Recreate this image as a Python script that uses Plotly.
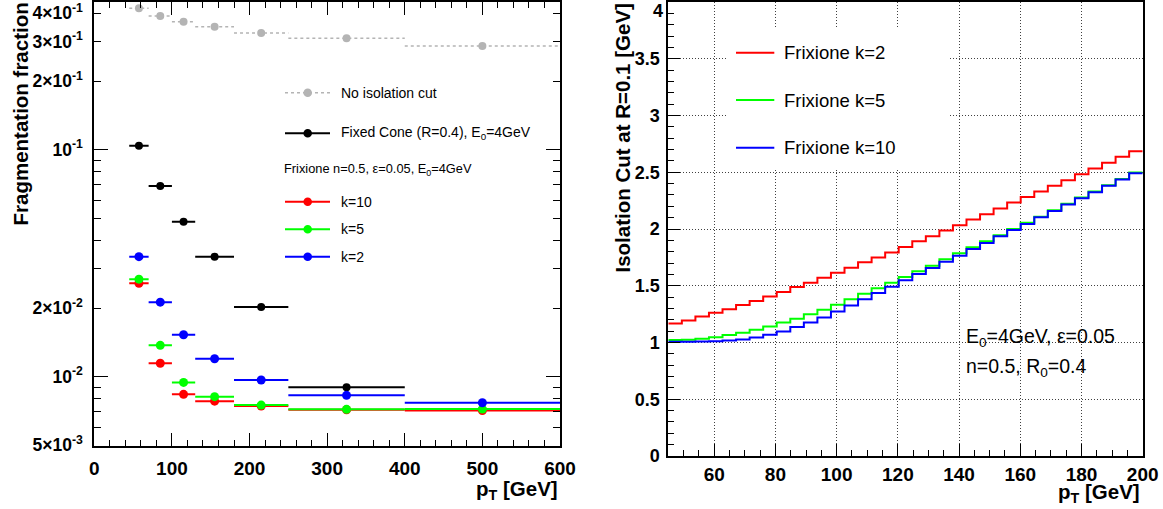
import plotly.graph_objects as go

# ---------------- data: left panel (fragmentation fraction) ----------------
bin_lo = [45, 70, 100, 130, 180, 250, 400]
bin_hi = [70, 100, 130, 180, 250, 400, 600]
no_iso = [0.420, 0.388, 0.366, 0.348, 0.327, 0.310, 0.286]
fixed_cone = [0.104, 0.0692, 0.0482, 0.0338, 0.0203, 0.00898, None]
frix_k10 = [0.0258, 0.01146, 0.00836, 0.0078, 0.00742, 0.00715, 0.0071]
frix_k5 = [0.0269, 0.01375, 0.00944, 0.00817, 0.0075, 0.00718, 0.0072]
frix_k2 = [0.0338, 0.0213, 0.0153, 0.0120, 0.00967, 0.00828, 0.00768]

left_ytick_vals = [0.4, 0.3, 0.2, 0.1, 0.02, 0.01, 0.005]
left_ytick_text = ["4×10<sup>-1</sup>", "3×10<sup>-1</sup>", "2×10<sup>-1</sup>",
                   "10<sup>-1</sup>", "2×10<sup>-2</sup>", "10<sup>-2</sup>", "5×10<sup>-3</sup>"]
left_yminor_vals = [0.03, 0.04, 0.05, 0.06, 0.07, 0.08, 0.09, 0.006, 0.007, 0.008, 0.009]

# ---------------- data: right panel (isolation cut) ----------------
pt_min, pt_max, n_bins = 45.0, 200.0, 35
cut_k2 = [1.168, 1.194, 1.229, 1.262, 1.294, 1.330, 1.365, 1.406, 1.445, 1.489,
          1.527, 1.571, 1.615, 1.659, 1.706, 1.750, 1.792, 1.842, 1.892, 1.936,
          1.986, 2.033, 2.083, 2.130, 2.180, 2.233, 2.283, 2.330, 2.380, 2.430,
          2.483, 2.533, 2.583, 2.636, 2.686]
cut_k5 = [1.021, 1.024, 1.033, 1.047, 1.065, 1.086, 1.112, 1.141, 1.177, 1.209,
          1.250, 1.289, 1.333, 1.380, 1.430, 1.477, 1.527, 1.578, 1.627, 1.677,
          1.733, 1.786, 1.839, 1.892, 1.944, 2.001, 2.056, 2.109, 2.165, 2.222,
          2.277, 2.330, 2.386, 2.441, 2.498]
cut_k10 = [1.006, 1.006, 1.009, 1.012, 1.018, 1.027, 1.045, 1.068, 1.097, 1.136,
           1.177, 1.221, 1.274, 1.327, 1.380, 1.436, 1.492, 1.548, 1.604, 1.657,
           1.712, 1.765, 1.824, 1.877, 1.936, 1.992, 2.045, 2.103, 2.159, 2.215,
           2.271, 2.324, 2.380, 2.436, 2.492]
right_ytick_vals = [0, 0.5, 1, 1.5, 2, 2.5, 3, 3.5, 4]
right_ytick_text = ["0", "0.5", "1", "1.5", "2", "2.5", "3", "3.5", ""]   # top label "4" placed below the edge
right_ytop_label = "4"

# ---------------- helpers ----------------
W, H = 1163, 509
FONT = "Liberation Sans, Arial, Helvetica, sans-serif"


def fx(p):
    return p / W


def fy(p):
    return 1 - p / H


centers = [(a + b) / 2 for a, b in zip(bin_lo, bin_hi)]
err_plus = [b - c for b, c in zip(bin_hi, centers)]
err_minus = [c - a for a, c in zip(bin_lo, centers)]

fig = go.Figure()

# gray: no isolation cut (dashed horizontal bins + markers)
seg_x, seg_y = [], []
for a, b, v in zip(bin_lo, bin_hi, no_iso):
    seg_x += [a, b, None]
    seg_y += [v, v, None]
GRAY = "#b4b4b4"
fig.add_trace(go.Scatter(x=seg_x, y=seg_y, mode="lines",
                         line=dict(color=GRAY, width=1.5, dash="3px,3px"),
                         xaxis="x", yaxis="y", showlegend=False, hoverinfo="skip"))
fig.add_trace(go.Scatter(x=centers, y=no_iso, mode="markers",
                         marker=dict(color=GRAY, size=8),
                         xaxis="x", yaxis="y", showlegend=False))


def add_series(vals, color, size=9):
    fig.add_trace(go.Scatter(
        x=centers, y=vals, mode="markers",
        marker=dict(color=color, size=size),
        error_x=dict(type="data", symmetric=False, array=err_plus, arrayminus=err_minus,
                     thickness=2, width=0, color=color),
        xaxis="x", yaxis="y", showlegend=False))


add_series(fixed_cone, "#000000", 8)
add_series(frix_k10, "#ff0000")
add_series(frix_k5, "#00ff00")
add_series(frix_k2, "#0000ff")

# dummy trace on overlay axis for long decade ticks
fig.add_trace(go.Scatter(x=[None], y=[None], xaxis="x", yaxis="y3", showlegend=False))

# right panel step histograms
step = (pt_max - pt_min) / n_bins
edges = [pt_min + i * step for i in range(n_bins + 1)]
for vals, color in [(cut_k2, "#ff0000"), (cut_k5, "#00ff00"), (cut_k10, "#0000ff")]:
    fig.add_trace(go.Scatter(x=edges, y=list(vals) + [vals[-1]], mode="lines",
                             line=dict(color=color, width=2, shape="hv"),
                             xaxis="x2", yaxis="y2", showlegend=False))

LX0, LX1, LY0, LY1 = 94.3, 560, 2, 446
RX0, RX1, RY0, RY1 = 668.3, 1142.7, 2, 456
ytop_log = -1 + (149.7 - LY0) / 227.0
ybot_log = -2 - (LY1 - 376.7) / 227.0

tickfont_x = dict(family=FONT, size=19, color="black", weight="bold")
common_line = dict(showline=True, linecolor="black", linewidth=2, zeroline=False, showgrid=False,
                   automargin=False, ticklabeloverflow="allow")

fig.update_layout(
    template="none",
    width=W, height=H, autosize=False,
    margin=dict(l=0, r=0, t=0, b=0, pad=0),
    paper_bgcolor="white", plot_bgcolor="white",
    showlegend=False,
    xaxis=dict(domain=[fx(LX0), fx(LX1)], anchor="y", range=[0, 600],
               tickvals=[0, 100, 200, 300, 400, 500, 600], ticks="inside", ticklen=13,
               tickcolor="black", tickwidth=1, mirror="ticks",
               minor=dict(dtick=20, tick0=0, ticks="inside", ticklen=6, tickcolor="black"),
               tickfont=tickfont_x, ticklabelstandoff=4, **common_line),
    yaxis=dict(domain=[fy(LY1), fy(LY0)], anchor="x", type="log", range=[ybot_log, ytop_log],
               tickmode="array", tickvals=left_ytick_vals, ticktext=left_ytick_text,
               ticks="inside", ticklen=7, tickcolor="black", mirror="ticks",
               minor=dict(tickmode="array", tickvals=left_yminor_vals, ticks="inside",
                          ticklen=7, tickcolor="black"),
               tickfont=dict(family=FONT, size=17.5, color="black", weight="bold"),
               ticklabelstandoff=6, **common_line),
    yaxis3=dict(overlaying="y", anchor="x", type="log", range=[ybot_log, ytop_log],
                tickmode="array", tickvals=[0.1, 0.01], ticks="inside", ticklen=14,
                tickcolor="black", mirror="ticks", showticklabels=False,
                showline=False, showgrid=False, zeroline=False, automargin=False),
    xaxis2=dict(domain=[fx(RX0), fx(RX1)], anchor="y2", range=[pt_min, pt_max],
                tickvals=[60, 80, 100, 120, 140, 160, 180, 200], ticks="inside", ticklen=12,
                tickcolor="black", mirror=True,
                minor=dict(dtick=5, tick0=45, ticks="inside", ticklen=6, tickcolor="black"),
                showgrid=True, gridcolor="rgba(0,0,0,0.75)", griddash="1px,2px", gridwidth=1,
                tickfont=tickfont_x, ticklabelstandoff=0,
                showline=True, linecolor="black", linewidth=2, zeroline=False,
                automargin=False, ticklabeloverflow="allow"),
    yaxis2=dict(domain=[fy(RY1), fy(RY0)], anchor="x2", range=[0, 4],
                tickvals=right_ytick_vals, ticktext=right_ytick_text,
                ticks="inside", ticklen=12, tickcolor="black", mirror=True,
                minor=dict(dtick=0.1, tick0=0, ticks="inside", ticklen=6, tickcolor="black"),
                showgrid=True, gridcolor="rgba(0,0,0,0.75)", griddash="1px,2px", gridwidth=1,
                tickfont=dict(family=FONT, size=18, color="black", weight="bold"),
                ticklabelstandoff=3,
                showline=True, linecolor="black", linewidth=2, zeroline=False,
                automargin=False, ticklabeloverflow="allow"),
)

shapes = []
annotations = []

# top tick label of the right y axis, kept inside the page
annotations.append(dict(xref="paper", yref="paper", x=fx(665), y=fy(-1), xanchor="right", yanchor="top",
                        text=right_ytop_label, showarrow=False,
                        font=dict(family=FONT, size=18, color="black", weight="bold")))

# ---- left legend (manual) ----
leg_items = [
    (92.7, GRAY, "3px,3px", "No isolation cut"),
    (133.3, "#000000", "solid", "Fixed Cone (R=0.4), E<sub>0</sub>=4GeV"),
    (201.7, "#ff0000", "solid", "k=10"),
    (229.3, "#00ff00", "solid", "k=5"),
    (256.7, "#0000ff", "solid", "k=2"),
]
for yy, col, dash, label in leg_items:
    shapes.append(dict(type="line", xref="paper", yref="paper", x0=fx(285), x1=fx(330),
                       y0=fy(yy), y1=fy(yy), line=dict(color=col, width=2 if dash == "solid" else 1.5, dash=dash)))
    shapes.append(dict(type="circle", xref="paper", yref="paper", xsizemode="pixel", ysizemode="pixel",
                       xanchor=fx(307.7), yanchor=fy(yy), x0=-4.3, x1=4.3, y0=-4.3, y1=4.3,
                       fillcolor=col, line=dict(color=col, width=0)))
    annotations.append(dict(xref="paper", yref="paper", x=fx(339), y=fy(yy), xanchor="left", yanchor="middle",
                            text=label, showarrow=False,
                            font=dict(family=FONT, size=14, color="black")))
annotations.append(dict(xref="paper", yref="paper", x=fx(281.5), y=fy(170), xanchor="left", yanchor="middle",
                        text="Frixione n=0.5, ε=0.05, E<sub>0</sub>=4GeV", showarrow=False,
                        font=dict(family=FONT, size=12.8, color="black")))

# ---- right legend (manual) ----
shapes.append(dict(type="rect", xref="paper", yref="paper", x0=fx(728), x1=fx(950), y0=fy(170), y1=fy(27),
                   fillcolor="white", line=dict(width=0), layer="above"))
for yy, col, label in [(52.7, "#ff0000", "Frixione k=2"), (100, "#00ff00", "Frixione k=5"),
                       (147.7, "#0000ff", "Frixione k=10")]:
    shapes.append(dict(type="line", xref="paper", yref="paper", x0=fx(736), x1=fx(774.3),
                       y0=fy(yy), y1=fy(yy), line=dict(color=col, width=2)))
    annotations.append(dict(xref="paper", yref="paper", x=fx(782), y=fy(yy), xanchor="left", yanchor="middle",
                            text=label, showarrow=False, font=dict(family=FONT, size=18.5, color="black")))

annotations.append(dict(xref="paper", yref="paper", x=fx(964), y=fy(337), xanchor="left", yanchor="middle",
                        text="E<sub>0</sub>=4GeV, ε=0.05", showarrow=False,
                        font=dict(family=FONT, size=19.5, color="black")))
annotations.append(dict(xref="paper", yref="paper", x=fx(964), y=fy(367), xanchor="left", yanchor="middle",
                        text="n=0.5, R<sub>0</sub>=0.4", showarrow=False,
                        font=dict(family=FONT, size=19.5, color="black")))

# ---- axis titles ----
title_font = dict(family=FONT, size=20.5, color="black", weight="bold")
annotations.append(dict(xref="paper", yref="paper", x=fx(20), y=fy(1), xanchor="center", yanchor="top",
                        textangle=-90, text="Fragmentation fraction", showarrow=False, font=title_font))
annotations.append(dict(xref="paper", yref="paper", x=fx(622), y=fy(2), xanchor="center", yanchor="top",
                        textangle=-90, text="Isolation Cut at R=0.1 [GeV]", showarrow=False, font=title_font))
annotations.append(dict(xref="paper", yref="paper", x=fx(560), y=fy(490), xanchor="right", yanchor="middle",
                        text="p<sub>T</sub> [GeV]", showarrow=False, font=title_font))
annotations.append(dict(xref="paper", yref="paper", x=fx(1142), y=fy(493), xanchor="right", yanchor="middle",
                        text="p<sub>T</sub> [GeV]", showarrow=False, font=title_font))

fig.update_layout(shapes=shapes, annotations=annotations)
fig.write_html("out.html",
               config={"displayModeBar": False, "staticPlot": True},
               post_script="document.body.style.margin='0px';document.body.style.padding='0px';"
                           "document.body.style.overflow='hidden';")
